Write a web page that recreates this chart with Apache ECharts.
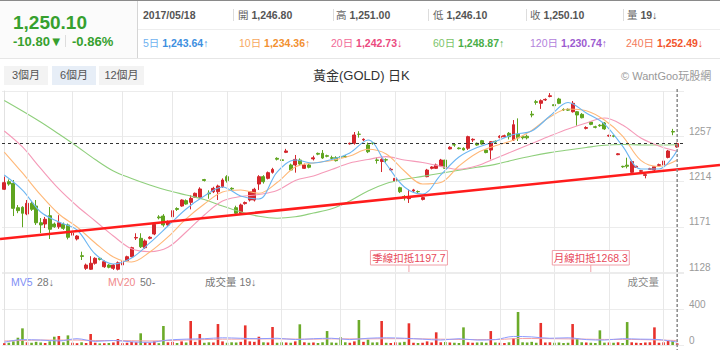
<!DOCTYPE html>
<html><head><meta charset="utf-8">
<script src="https://cdn.jsdelivr.net/npm/echarts@6.0.0/dist/echarts.min.js"></script>
<style>
html,body{margin:0;padding:0;background:#fff;}
body{width:720px;height:350px;overflow:hidden;position:relative;font-family:"Liberation Sans",Arial,"Noto Sans CJK TC",sans-serif;}
#chart{position:absolute;left:0;top:0;width:720px;height:350px;}
.a{position:absolute;white-space:nowrap;line-height:1;}
.b{font-weight:bold;}
.ln{position:absolute;}
.r1{top:10px;font-size:10.5px;}
.r2{top:38px;font-size:10.5px;}
.lb{color:#666;font-weight:normal;}
.nb{color:#555;font-weight:bold;}
.btn{position:absolute;top:66px;height:19px;line-height:19px;text-align:center;font-size:11px;color:#555;background:#f3f3f3;}
</style></head><body>
<div id="chart"></div>
<div class="ln" style="left:0;top:0;width:720px;height:1px;background:#8a8a8a"></div>
<div class="ln" style="left:0;top:1px;width:137px;height:57px;background:#fbfbfb"></div>
<div class="ln" style="left:137px;top:1px;width:1px;height:57px;background:#d5d5d5"></div>
<div class="ln" style="left:138px;top:29px;width:582px;height:1px;background:#eeeeee"></div>
<div class="ln" style="left:0;top:58px;width:720px;height:1px;background:#e6e6e6"></div>
<div class="a b" style="left:13px;top:13px;font-size:19px;color:#36a02e">1,250.10</div>
<div class="a b" style="left:13px;top:35px;font-size:13px;color:#36a02e">-10.80▼</div>
<div class="ln" style="left:65px;top:35px;width:1px;height:12px;background:#dddddd"></div>
<div class="a b" style="left:72px;top:35px;font-size:13px;color:#36a02e">-0.86%</div>

<div class="a r1 nb" style="left:143px">2017/05/18</div>
<div class="ln" style="left:233px;top:9px;width:1px;height:12px;background:#ddd"></div>
<div class="a r1" style="left:238px"><span class="lb">開 </span><span class="nb">1,246.80</span></div>
<div class="ln" style="left:333px;top:9px;width:1px;height:12px;background:#ddd"></div>
<div class="a r1" style="left:336px"><span class="lb">高 </span><span class="nb">1,251.00</span></div>
<div class="ln" style="left:428px;top:9px;width:1px;height:12px;background:#ddd"></div>
<div class="a r1" style="left:433px"><span class="lb">低 </span><span class="nb">1,246.10</span></div>
<div class="ln" style="left:526px;top:9px;width:1px;height:12px;background:#ddd"></div>
<div class="a r1" style="left:530px"><span class="lb">收 </span><span class="nb">1,250.10</span></div>
<div class="ln" style="left:623px;top:9px;width:1px;height:12px;background:#ddd"></div>
<div class="a r1" style="left:627px"><span class="lb">量 </span><span class="nb">19↓</span></div>

<div class="a r2" style="left:143px"><span style="color:#6fb2f0">5日 </span><span class="b" style="color:#3d8fe0">1,243.64↑</span></div>
<div class="a r2" style="left:239px"><span style="color:#f7a85e">10日 </span><span class="b" style="color:#f29030">1,234.36↑</span></div>
<div class="a r2" style="left:331px"><span style="color:#f26a98">20日 </span><span class="b" style="color:#eb4a7e">1,242.73↓</span></div>
<div class="a r2" style="left:433px"><span style="color:#7cc46a">60日 </span><span class="b" style="color:#4aae48">1,248.87↑</span></div>
<div class="a r2" style="left:530px"><span style="color:#b382dc">120日 </span><span class="b" style="color:#9c5bd0">1,230.74↑</span></div>
<div class="a r2" style="left:626px"><span style="color:#f47a5a">240日 </span><span class="b" style="color:#f2552c">1,252.49↓</span></div>

<div class="btn" style="left:4px;width:44px">3個月</div>
<div class="btn" style="left:52px;width:44px;background:#e7eef7">6個月</div>
<div class="btn" style="left:99px;width:45px">12個月</div>
<div class="a" style="left:313px;top:69px;font-size:13px;color:#333">黃金(GOLD) 日K</div>
<div class="a" style="left:621px;top:71px;font-size:11px;color:#999">© WantGoo玩股網</div>

<script>
// [open, close, low, high]
const candles = [
[1206.6,1212.9,1205.9,1218.6],[1213.8,1211.6,1210,1216],[1212.3,1188.5,1181.2,1215.4],[1189.1,1186.3,1183.9,1191.6],[1189.5,1183.8,1170.5,1190.5],
[1183.1,1193.3,1182,1196.4],[1193.3,1187.6,1186,1195],[1190.7,1174.8,1172.7,1196.4],[1174.8,1172.7,1165,1179.3],[1173.6,1178.1,1169.8,1180.3],
[1181.5,1168.6,1159.4,1189.8],[1173.6,1171,1170,1175],[1171,1174.8,1169,1182],[1173.3,1169.5,1168,1175],[1172.7,1161,1159,1174],
[1163,1165,1161,1167],[1159.4,1162.2,1158,1163],[1143.5,1142.8,1139.4,1147.3],[1131.5,1134.6,1130,1136],[1130.6,1136.3,1130,1143],
[1136.3,1141,1135,1142],[1141,1140,1139,1142],[1133,1137.8,1132,1139],[1134.6,1132.5,1131.5,1135.5],[1131.5,1134.6,1130,1135.5],
[1130.6,1136.8,1129.5,1138],[1134.7,1137.8,1134,1139],[1138.7,1142.5,1138,1143.5],[1142.5,1151.1,1142,1152],[1160.3,1160.8,1158.4,1164.8],
[1160,1152,1150.8,1164.8],[1151.1,1157.5,1150,1159],[1160,1161,1159,1162],[1164.1,1173.3,1163,1174],[1180.3,1179.5,1178,1182],
[1181.2,1172.7,1171,1183],[1172.7,1175.8,1172,1177],[1180.5,1186.3,1180,1187],[1188.3,1187.5,1186,1189.5],[1190.7,1196.4,1190,1197],
[1195.8,1192.6,1192,1197],[1194.2,1198,1187.5,1201],[1199,1202.8,1198.5,1203.5],[1199,1206.9,1198,1208.5],[1215.8,1215,1214,1216.5],
[1203,1202.3,1197.6,1205.6],[1204.3,1207.5,1203,1209],[1204.3,1209.7,1196.4,1211],[1209.1,1215.4,1208,1217],[1218.6,1214.8,1213,1220],
[1207.5,1206.9,1206,1208.5],[1189.1,1183.8,1182,1191],[1183.8,1191.7,1182.5,1193],[1193,1194,1192,1195],[1196.4,1204.3,1195,1205],
[1196.4,1206.6,1195,1208],[1211.6,1218.6,1206,1220],[1218.6,1213.8,1212,1220],[1217,1222.4,1216,1223.5],[1222.7,1225.5,1221.5,1227],
[1236,1235.2,1234,1237],[1234.6,1234,1232.5,1237.5],[1241.7,1243,1241,1245],[1229.7,1224.9,1224,1231],[1229.7,1235,1222.4,1239.2],
[1234.4,1230.6,1229,1236],[1226.5,1229.7,1226,1231],[1229.7,1227.5,1226.5,1231],[1235.5,1236.5,1234,1238.5],[1240.7,1240,1239,1241.5],
[1240.8,1236.3,1235.5,1243.9],[1238.5,1238,1237,1239.5],[1236.6,1236,1234.5,1238.5],[1236.6,1233.8,1233,1238],[1237.8,1237.2,1236.5,1238.5],
[1237.8,1237.3,1236.5,1239],[1249.8,1250.3,1249,1251],[1250.3,1258.2,1249,1261],[1259,1258.8,1255.7,1261.8],[1253.5,1254.1,1252.5,1255],
[1248.7,1242.3,1241,1251],[1250.6,1250.3,1249,1251.5],[1234.5,1234,1231,1237],[1233,1235,1223,1236],[1234.7,1234.4,1232,1236],
[1225,1225.6,1224,1227],[1214.5,1217,1214,1218],[1208.1,1204.3,1203,1209],[1199.8,1199,1196,1201],[1197.7,1198.6,1193.6,1206.5],
[1205,1206,1204,1207],[1204.5,1204.3,1203,1205.5],[1197,1198.7,1196,1199.5],[1218.6,1224.9,1218,1226],[1226.5,1227.8,1225.5,1228.5],
[1226.5,1229.7,1226,1231],[1228.7,1234.4,1228,1235.5],[1234.4,1226.5,1226,1235],[1245,1246.5,1244.5,1247.5],[1249,1248.7,1247,1250.5],
[1245.8,1245.2,1244.5,1246.5],[1245.5,1244,1243.5,1246.5],[1245.6,1256.6,1244,1257.5],[1253.5,1254.1,1251.5,1255],[1250.3,1248.7,1248,1251],
[1252.8,1249.6,1249,1253.5],[1243.9,1241.5,1240.8,1244.5],[1243.9,1251.8,1235,1252.5],[1252.2,1251.5,1250.5,1253],[1256,1257,1255,1258],
[1256.5,1257.5,1256,1258.5],[1259.8,1256.6,1254,1261],[1253.4,1268,1252.5,1272.4],[1259,1255.5,1252.5,1274],[1256.6,1255.6,1254,1257.5],
[1257,1255.5,1254,1258.5],[1278,1277.2,1275,1281],[1289.8,1289.2,1287,1291.5],[1288.3,1290.8,1283,1292],[1291.5,1292,1290.5,1293],
[1294.8,1295.5,1294,1298],[1287,1286,1285,1288],[1292.4,1288.3,1287.5,1293.5],[1282.5,1282,1281,1283.5],[1282.5,1281.8,1281,1283.5],
[1280.3,1288.3,1279.5,1290.5],[1280.3,1277.2,1267,1281],[1277.8,1274.6,1274,1279],[1264.5,1265.3,1263.5,1266.5],[1270.5,1268.3,1267.5,1271.5],
[1266,1265.5,1264.5,1267],[1267.5,1267,1266,1268.5],[1269.6,1264,1263,1270.5],[1257.2,1257.8,1256.5,1258.5],[1257.4,1257,1256,1258],
[1239.5,1240.3,1239,1241],[1228.4,1228,1227,1229],[1229.5,1228.5,1226.5,1236.6],[1222.7,1233,1222,1234.5],[1227.5,1228.4,1227,1229],
[1223.7,1224.3,1223,1225],[1219.8,1220.5,1217,1221.5],[1225.5,1226.2,1225,1227],[1224.9,1228,1224,1228.5],[1229.3,1230,1229,1231],
[1229.7,1233.5,1229,1234.5],[1236.9,1243,1236,1244],[1261.5,1261,1258,1264],[1246.8,1250.1,1246.1,1251]
];
const volumes = [
20,25,40,81,185,30,25,35,28,22, 40,92,100,30,107,25,20,30,22,122,
25,18,20,22,28,67,20,25,35,30, 130,30,25,40,20,211,30,35,22,40,
28,267,35,122,25,30,28,233,40,25, 30,28,35,218,40,35,92,30,28,200,
25,30,28,25,40,230,30,25,28,22, 30,155,28,25,85,30,25,40,278,35,
59,28,30,267,25,22,30,28,35,241, 25,22,25,40,28,141,30,33,28,25,
22,196,30,25,28,30,25,155,28,25, 22,30,74,367,30,28,35,25,245,28,
30,25,28,22,25,233,74,30,28,25, 22,163,26,28,25,30,22,255,30,25,
22,28,30,196,25,30,44,44,19
];
// moving-average lines every 4th candle
const maStep = 4;
const ma5 = [1220.2,1205.9,1185,1175.5,1167.9,1145.1,1135.6,1141.3,1155.6,1171.7,1187.9,1200.2,1208.8,1200.2,1197.4,1223,1234.4,1231.6,1234.9,1241.1,1253.4,1230.6,1208.8,1202.1,1220.2,1237.3,1246.3,1252,1258.7,1262,1276.2,1289.1,1279.1,1268.6,1247.7,1225.9,1225.9,1243.6];
const ma10 = [1242,1222.1,1201.2,1183.1,1170.8,1155.6,1142.3,1137.5,1147,1161.3,1178.4,1192.6,1204,1205.9,1202.8,1213,1227.8,1231.6,1234,1238.2,1244.6,1240.1,1224,1211.6,1213,1228.7,1241.1,1247.9,1253.4,1262.5,1275.3,1282.9,1281.3,1272.4,1257.2,1234.1,1228.3,1234.4];
const ma20 = [1262,1246.8,1226.4,1206.9,1190.7,1176.5,1162.2,1150,1147.3,1151.5,1166,1182.2,1195.5,1199.7,1201.6,1205.4,1215,1219.2,1225.4,1231.6,1234.9,1237.6,1234.4,1232.1,1228.4,1225.6,1228.9,1235.9,1243,1250.1,1257.2,1263.9,1269.6,1274.3,1267.7,1255.3,1247.7,1242.7];
const ma60 = [1291,1281,1270.5,1259.1,1247.3,1234.9,1224,1216.9,1210.7,1205.4,1201.2,1196.9,1190.7,1185.2,1180.9,1179.1,1180.5,1184.1,1188.1,1195.5,1205,1212.1,1216.1,1218.9,1221.9,1224.7,1227.5,1230.3,1234.4,1238.2,1241.4,1243.9,1246.3,1248.4,1249.2,1248.8,1248.7,1248.9];
const mv5 = [30,60,55,45,70,40,50,35,30,55,65,70,80,75,70,75,60,70,75,60,75,80,75,65,55,70,55,60,95,90,75,80,60,55,70,65,60,32];
const mv20 = [45,50,55,55,55,50,50,48,45,50,55,60,65,65,68,68,66,65,68,68,68,70,70,68,65,62,60,60,70,72,70,68,65,62,62,60,55,50];
const priceMin = 1128, priceMax = 1300, priceStep = 43;
const volMax = 800, volStep = 400;
const gridDays = [5,15,26,37,49,61,74,86,97,109,121,133,145];
const trendAnchors = [[0,1159.8],[148,1225.5]];
const lastClose = 1250.1;
const deductions = [[89,'季線扣抵1197.7'],[129,'月線扣抵1268.3']];

const N = candles.length;
const cats = Array.from({length: N + 1}, (_, i) => String(i));
const pairs = arr => arr.map((v, k) => [k * maStep, v]);
const UP = '#d4262c', DN = '#5fa41f';
const FONT = '"Liberation Sans", Arial, "Noto Sans CJK TC", sans-serif';

const chart = echarts.init(document.getElementById('chart'), null, {renderer: 'svg'});
const gridLineStyle = {color: '#e8e8e8', width: 1, type: 'solid'};
const maLine = (name, data, color) => ({
  name, type: 'line', xAxisIndex: 2, yAxisIndex: 0, data: pairs(data), smooth: 0.35,
  symbol: 'none', silent: true, z: 3, lineStyle: {color, width: 1.1}
});
const mvLine = (name, data, color) => ({
  name, type: 'line', xAxisIndex: 3, yAxisIndex: 1, data: pairs(data), smooth: 0.35,
  symbol: 'none', silent: true, z: 3, lineStyle: {color, width: 1}
});
chart.setOption({
  animation: false,
  grid: [
    {left: 2, right: 36, top: 91, height: 181, outerBoundsMode: 'none'},
    {left: 2, right: 36, top: 273, height: 72, outerBoundsMode: 'none'}
  ],
  xAxis: [
    {type: 'category', gridIndex: 0, data: cats, boundaryGap: true, show: false},
    {type: 'category', gridIndex: 1, data: cats, boundaryGap: true, show: false},
    {type: 'value', gridIndex: 0, min: -0.5, max: N + 0.5, show: false},
    {type: 'value', gridIndex: 1, min: -0.5, max: N + 0.5, show: false}
  ],
  yAxis: [
    {type: 'value', gridIndex: 0, position: 'right', min: priceMin, max: priceMax, interval: priceStep,
     axisLine: {show: true, lineStyle: {color: '#e2e2e2'}}, axisTick: {show: false},
     splitLine: {show: true, lineStyle: {color: '#ececec'}},
     axisLabel: {color: '#9a9a9a', fontSize: 10, margin: 5, verticalAlign: 'bottom', fontFamily: FONT,
       formatter: v => (v >= priceMax ? '' : String(v))}},
    {type: 'value', gridIndex: 1, position: 'right', min: 0, max: volMax, interval: volStep,
     axisLine: {show: true, lineStyle: {color: '#e2e2e2'}}, axisTick: {show: false},
     splitLine: {show: true, lineStyle: {color: '#ececec'}},
     axisLabel: {color: '#9a9a9a', fontSize: 10, margin: 5, verticalAlign: 'bottom', fontFamily: FONT,
       formatter: v => (v >= volMax ? '' : String(v))}}
  ],
  series: [
    {type: 'line', xAxisIndex: 0, yAxisIndex: 0, data: [], silent: true, z: 1,
     markLine: {silent: true, symbol: 'none', label: {show: false}, lineStyle: gridLineStyle,
       data: gridDays.map(d => ({xAxis: d}))}},
    {type: 'line', xAxisIndex: 1, yAxisIndex: 1, data: [], silent: true, z: 1,
     markLine: {silent: true, symbol: 'none', label: {show: false}, lineStyle: gridLineStyle,
       data: gridDays.map(d => ({xAxis: d}))}},
    {type: 'candlestick', xAxisIndex: 0, yAxisIndex: 0, data: candles, barWidth: 3.4, z: 2,
     itemStyle: {color: UP, color0: DN, borderColor: UP, borderColor0: DN, borderWidth: 1},
     markLine: {silent: true, symbol: 'none', label: {show: false},
       lineStyle: {color: '#333', type: [3, 3], width: 1}, data: [{yAxis: lastClose}]}},
    maLine('MA60', ma60, '#8fcf7c'),
    maLine('MA20', ma20, '#f59ab8'),
    maLine('MA10', ma10, '#ffb878'),
    maLine('MA5', ma5, '#6cb6f2'),
    {type: 'bar', xAxisIndex: 1, yAxisIndex: 1, barWidth: 2.6, silent: true, z: 2,
     data: volumes.map((v, i) => ({value: v, itemStyle: {color: candles[i][1] >= candles[i][0] ? '#e8322c' : '#6cab2a'}}))},
    mvLine('MV20', mv20, '#f5a3a3'),
    mvLine('MV5', mv5, '#8e9cff')
  ]
});

const X = i => chart.convertToPixel({xAxisIndex: 2}, i);
const Y = v => chart.convertToPixel({yAxisIndex: 0}, v);
const p0 = [X(trendAnchors[0][0]), Y(trendAnchors[0][1])];
const p1 = [X(trendAnchors[1][0]), Y(trendAnchors[1][1])];
const slope = (p1[1] - p0[1]) / (p1[0] - p0[0]);
const yAt = x => p0[1] + slope * (x - p0[0]);
const xLast = X(N - 1);
const paneBottom = Y(priceMin);
const g = [];
g.push({type: 'line', silent: true, z: 60, shape: {x1: 0, y1: yAt(0), x2: 720, y2: yAt(720)},
  style: {stroke: '#ff1c1c', lineWidth: 2.5}});
g.push({type: 'line', silent: true, z: 61, shape: {x1: xLast, y1: 89, x2: xLast, y2: 350},
  style: {stroke: '#8a8a8a', lineWidth: 1.5, lineDash: [3, 2]}});
deductions.forEach(([idx, txt]) => {
  const cx = X(idx), w = 77, h = 14.5, by = paneBottom - 7;
  g.push({type: 'line', silent: true, z: 62, shape: {x1: cx, y1: by, x2: cx, y2: paneBottom},
    style: {stroke: '#f0a0a8', lineWidth: 1}});
  g.push({type: 'rect', silent: true, z: 62, shape: {x: cx - w / 2, y: by - h, width: w, height: h},
    style: {fill: '#fff', stroke: '#f0a0a8', lineWidth: 1}});
  g.push({type: 'text', silent: true, z: 63, style: {text: txt, x: cx, y: by - h / 2 + 0.5,
    textAlign: 'center', textVerticalAlign: 'middle', fill: '#e8485a', font: '10.5px ' + FONT}});
});
const vt = (txt, x, color, align) => ({type: 'text', silent: true, z: 63,
  style: {text: txt, x, y: 282, textAlign: align || 'left', textVerticalAlign: 'middle', fill: color, font: '10.5px ' + FONT}});
g.push(vt('MV5', 11, '#7f8ff5'));
g.push(vt('28↓', 37, '#777'));
g.push(vt('MV20', 108, '#f08a8a'));
g.push(vt('50-', 140, '#777'));
g.push(vt('成交量 19↓', 205, '#777'));
g.push(vt('成交量', 659, '#888', 'right'));
chart.setOption({graphic: g});
</script>
</body></html>
